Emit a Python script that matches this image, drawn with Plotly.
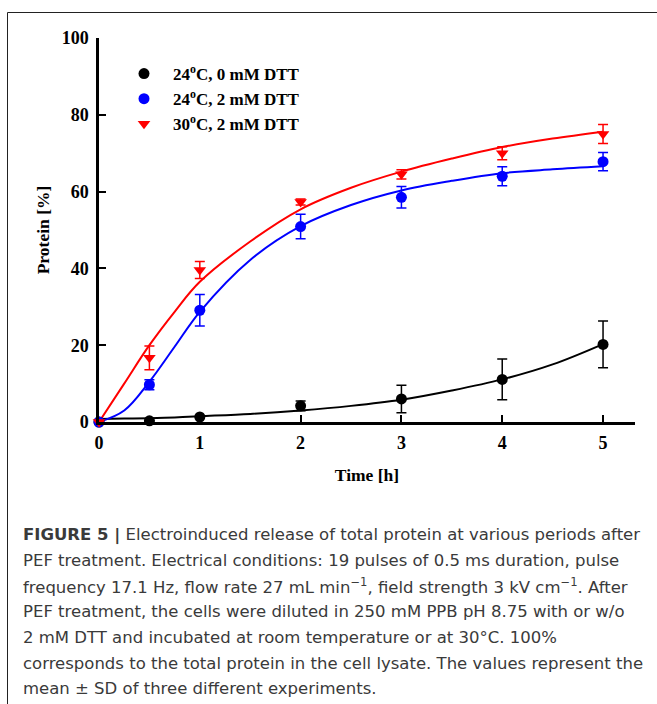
import plotly.graph_objects as go

# ---- data ----
time_h = [0, 0.5, 1, 2, 3, 4, 5]
black_mean = [0, 0.3, 1.3, 4.2, 6.0, 11.1, 20.2]
black_sd = [0, 0, 0, 1.3, 3.6, 5.3, 6.1]
blue_mean = [0, 9.7, 29.1, 50.9, 58.5, 64.0, 67.8]
blue_sd = [0, 1.3, 4.1, 3.2, 2.8, 2.5, 2.4]
red_mean = [0, 16.7, 39.6, 57.3, 64.5, 70.0, 75.0]
red_sd = [0, 3.1, 2.2, 0.8, 1.2, 1.7, 2.5]

fit_t = [0, 0.25, 0.5, 0.75, 1, 1.5, 2, 2.5, 3, 3.5, 4, 4.5, 5]
black_fit = [0.8, 0.9, 1.0, 1.2, 1.5, 2.1, 3.0, 4.2, 5.8, 8.2, 11.1, 15.0, 20.3]
blue_fit = [0, 3.0, 10.5, 19.6, 28.7, 42.2, 51.0, 56.5, 60.3, 62.8, 64.8, 65.8, 66.6]
red_fit = [0, 10.0, 20.0, 28.7, 36.5, 47.0, 55.4, 61.0, 65.2, 68.6, 71.6, 73.8, 75.6]

series_names = ["24<sup>o</sup>C, 0 mM DTT", "24<sup>o</sup>C, 2 mM DTT", "30<sup>o</sup>C, 2 mM DTT"]
x_ticks = [0, 1, 2, 3, 4, 5]
y_ticks = [0, 20, 40, 60, 80, 100]

caption_lines = [
    "<b>FIGURE 5 |</b> Electroinduced release of total protein at various periods after",
    "PEF treatment. Electrical conditions: 19 pulses of 0.5 ms duration, pulse",
    "frequency 17.1 Hz, flow rate 27 mL min<sup>\u22121</sup>, field strength 3 kV cm<sup>\u22121</sup>. After",
    "PEF treatment, the cells were diluted in 250 mM PPB pH 8.75 with or w/o",
    "2 mM DTT and incubated at room temperature or at 30\u00b0C. 100%",
    "corresponds to the total protein in the cell lysate. The values represent the",
    "mean \u00b1 SD of three different experiments.",
]

BLACK = "#000000"
BLUE = "#0000FF"
RED = "#FF0000"
SERIF = "Liberation Serif"

fig = go.Figure()

for fit, col in [(black_fit, BLACK), (blue_fit, BLUE), (red_fit, RED)]:
    fig.add_trace(go.Scatter(
        x=fit_t, y=fit, mode="lines", showlegend=False, hoverinfo="skip",
        line=dict(color=col, width=2, shape="spline", smoothing=1.0),
        cliponaxis=False,
    ))

for i, (mean, sd, col, sym) in enumerate([
    (black_mean, black_sd, BLACK, "circle"),
    (blue_mean, blue_sd, BLUE, "circle"),
    (red_mean, red_sd, RED, "triangle-down"),
]):
    fig.add_trace(go.Scatter(
        x=time_h, y=mean, mode="markers", name=series_names[i],
        marker=dict(color=col, size=11, symbol=sym, line=dict(width=0)),
        error_y=dict(type="data", array=sd, visible=True, color=col, thickness=1.5, width=5),
        cliponaxis=False,
    ))

tickfont = dict(family=SERIF, size=18, color=BLACK, weight="bold")
titlefont = dict(family=SERIF, size=17.5, color=BLACK, weight="bold")

fig.update_xaxes(
    range=[0, 5.317], tickvals=x_ticks, ticktext=[str(v) for v in x_ticks],
    showline=True, linecolor=BLACK, linewidth=2.5, showgrid=False, zeroline=False,
    ticks="inside", ticklen=7, tickwidth=2, tickcolor=BLACK, tickfont=tickfont,
    ticklabelstandoff=3,
    title=dict(text="Time [h]", font=titlefont, standoff=17),
)
fig.update_yaxes(
    range=[0, 100], tickvals=y_ticks, ticktext=[str(v) for v in y_ticks],
    showline=True, linecolor=BLACK, linewidth=2.5, showgrid=False, zeroline=False,
    ticks="inside", ticklen=7, tickwidth=2, tickcolor=BLACK, tickfont=tickfont,
    ticklabelstandoff=4,
    title=dict(text="Protein [%]", font=titlefont, standoff=8),
)

annotations = []
for k, line in enumerate(caption_lines):
    annotations.append(dict(
        text=line, xref="paper", yref="paper",
        x=(21 - 99) / 536, y=(422 - (535 + 25.6 * k)) / 384,
        xanchor="left", yanchor="middle", showarrow=False, align="left",
        font=dict(family="DejaVu Sans", size=16.5, color="#3a3a3a"),
    ))

fig.update_layout(
    width=657, height=704,
    margin=dict(l=99, r=22, t=38, b=282),
    paper_bgcolor="white", plot_bgcolor="white",
    showlegend=True,
    legend=dict(
        x=(115 - 99) / 536, y=(422 - 56) / 384, xanchor="left", yanchor="top",
        bgcolor="rgba(0,0,0,0)", borderwidth=0, itemwidth=48,
        font=dict(family=SERIF, size=17, color=BLACK, weight="bold"),
    ),
    annotations=annotations,
    shapes=[dict(
        type="rect", xref="paper", yref="paper",
        x0=(7.5 - 99) / 536, x1=1.2, y0=-1.5, y1=(422 - 12.5) / 384,
        line=dict(color="#222222", width=1), fillcolor="rgba(0,0,0,0)", layer="below",
    )],
)

fig.write_html("out.html")
